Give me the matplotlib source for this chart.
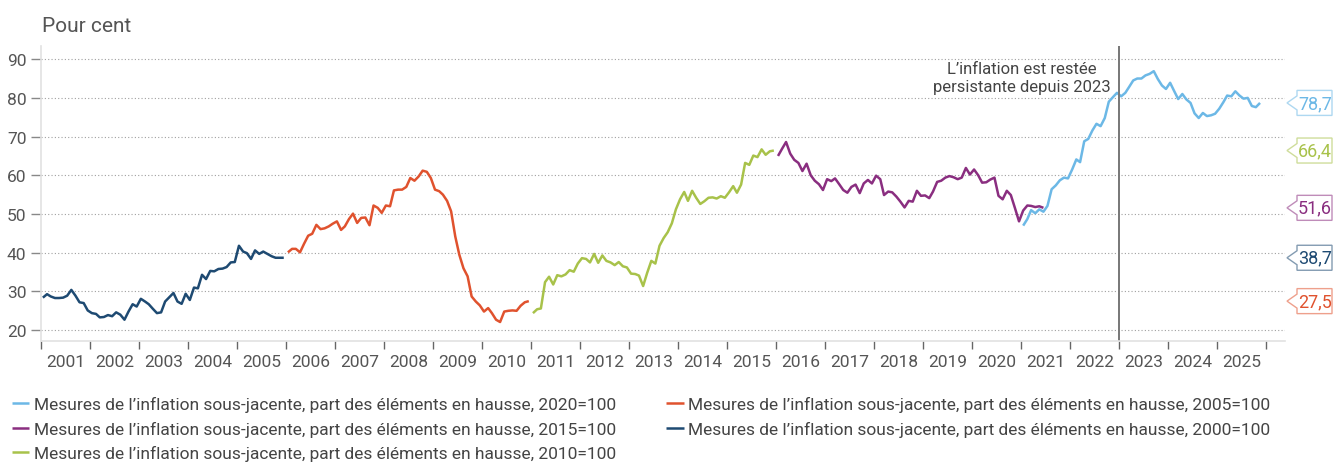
import numpy as np
import pandas as pd
import matplotlib
matplotlib.use("Agg")
import matplotlib.pyplot as plt
import matplotlib.dates as mdates
from matplotlib.patches import Polygon
from matplotlib.transforms import IdentityTransform

plt.rcParams['font.family'] = ['Roboto', 'DejaVu Sans']

# Part des éléments en hausse (pour cent), données mensuelles
v2000 = [28.4, 29.3, 28.7, 28.3, 28.3, 28.4, 28.9, 30.4, 28.9, 27.2, 27.0, 25.1,
         24.4, 24.2, 23.3, 23.4, 23.9, 23.6, 24.6, 24.0, 22.7, 24.8, 26.7, 26.1,
         28.1, 27.4, 26.7, 25.5, 24.4, 24.6, 27.4, 28.5, 29.6, 27.4, 26.8, 29.4,
         27.8, 31.0, 30.8, 34.3, 33.2, 35.3, 35.2, 35.8, 35.9, 36.3, 37.5, 37.6,
         41.8, 40.3, 39.9, 38.4, 40.6, 39.7, 40.3, 39.7, 39.1, 38.7, 38.7, 38.7]
v2005 = [40.1, 41.0, 41.0, 40.1, 42.3, 44.4, 44.9, 47.2, 46.1, 46.3, 46.8, 47.5,
         48.1, 45.9, 46.8, 48.7, 50.1, 47.7, 49.0, 49.1, 47.1, 52.2, 51.6, 50.3,
         52.2, 52.0, 56.1, 56.3, 56.3, 57.0, 59.3, 58.6, 59.7, 61.2, 60.9, 59.3,
         56.3, 55.9, 55.0, 53.4, 50.7, 44.2, 39.5, 36.0, 33.9, 28.7, 27.4, 26.4,
         24.8, 25.7, 24.4, 22.7, 22.1, 24.8, 25.0, 25.1, 25.0, 26.3, 27.2, 27.5]
v2010 = [24.4, 25.4, 25.6, 32.4, 33.8, 31.8, 34.2, 33.9, 34.4, 35.5, 35.1, 37.2,
         38.6, 38.4, 37.5, 39.7, 37.4, 39.3, 37.9, 37.5, 36.8, 37.6, 36.5, 36.2,
         34.6, 34.5, 34.1, 31.4, 34.8, 37.9, 37.2, 41.8, 43.8, 45.3, 47.6, 51.2,
         53.8, 55.7, 53.4, 56.0, 54.2, 52.6, 53.3, 54.2, 54.3, 54.0, 54.6, 54.2,
         55.6, 57.2, 55.5, 57.6, 63.2, 62.7, 65.1, 64.7, 66.7, 65.3, 66.2, 66.4]
v2015 = [65.0, 66.9, 68.6, 65.6, 64.0, 63.2, 61.1, 63.0, 60.0, 58.6, 57.7, 56.2,
         59.0, 58.5, 59.2, 57.7, 56.2, 55.5, 57.0, 57.6, 55.4, 57.9, 58.8, 57.9,
         59.9, 59.0, 54.9, 55.8, 55.6, 54.5, 53.2, 51.7, 53.4, 53.2, 56.0, 54.7,
         54.8, 54.1, 55.8, 58.3, 58.6, 59.4, 59.8, 59.5, 59.0, 59.4, 61.9, 60.2,
         61.5, 60.0, 58.1, 58.2, 58.9, 59.4, 54.7, 53.8, 56.0, 54.9, 51.5, 48.1,
         50.9, 52.2, 52.1, 51.8, 52.0, 51.6]
v2020 = [47.0, 48.7, 51.0, 50.2, 51.2, 50.6, 52.1, 56.4, 57.4, 58.7, 59.4, 59.2,
         61.5, 64.1, 63.4, 68.8, 69.4, 71.6, 73.3, 72.7, 74.8, 79.0, 80.2, 81.3,
         80.4, 81.3, 82.8, 84.5, 85.0, 85.0, 85.8, 86.2, 86.9, 84.9, 83.2, 82.3,
         83.9, 81.7, 79.7, 81.0, 79.6, 78.7, 76.0, 74.8, 76.1, 75.3, 75.5, 75.9,
         77.2, 78.9, 80.6, 80.4, 81.7, 80.6, 79.8, 80.0, 77.9, 77.6, 78.7]

label = "Mesures de l\u2019inflation sous-jacente, part des éléments en hausse, {}=100"

series = [
    # (valeurs, début, base, couleur)
    (v2020, '2021-01', '2020', '#6CB8E6'),
    (v2015, '2016-01', '2015', '#8A2E80'),
    (v2010, '2011-01', '2010', '#A8C24A'),
    (v2005, '2006-01', '2005', '#E0522E'),
    (v2000, '2001-01', '2000', '#1E4A72'),
]
last_labels = ['78,7', '51,6', '66,4', '27,5', '38,7']

fig = plt.figure(figsize=(13.34, 4.64), dpi=100)
W, H = 1334, 464
ax = fig.add_axes([41 / W, 1 - 342 / H, (1285 - 41) / W, (342 - 47) / H])

handles = []
for vals, start, base, col in series:
    dates = pd.date_range(start, periods=len(vals), freq='MS') + pd.Timedelta(days=14)
    h, = ax.plot(dates, vals, color=col, lw=1.8, solid_capstyle='butt')
    handles.append(h)

ax.set_xlim(pd.Timestamp('2001-01-01'), pd.Timestamp('2026-05-20'))
ax.set_ylim(17.2, 93.4)
ax.set_yticks(np.arange(20, 91, 10))

ax.xaxis.set_major_locator(mdates.YearLocator())
ax.xaxis.set_major_formatter(plt.NullFormatter())
ax.xaxis.set_minor_locator(mdates.MonthLocator(bymonth=7))
ax.xaxis.set_minor_formatter(mdates.DateFormatter('%Y'))
ax.tick_params(axis='x', which='major', length=6, width=1, color='#666666')
ax.tick_params(axis='x', which='minor', length=0, pad=9.5, labelsize=12.5, labelcolor='#555555')
ax.tick_params(axis='y', length=7, width=1, color='#888888', pad=3.5, labelsize=12.5,
               labelcolor='#555555')

ax.yaxis.grid(True, linestyle=(0, (1, 2)), color='#A0A0A0', lw=0.8)
ax.set_axisbelow(True)
for s in ['top', 'right']:
    ax.spines[s].set_visible(False)
for s in ['left', 'bottom']:
    ax.spines[s].set_color('#E2E2E2')
    ax.spines[s].set_linewidth(1.2)

ax.axvline(pd.Timestamp('2023-01-01'), color='#777777', lw=1.4)
ax.text(pd.Timestamp('2021-01-05'), 85.3, "L\u2019inflation est restée\npersistante depuis 2023",
        ha='center', va='center', fontsize=12, color='#444444', linespacing=1.3)

fig.text(42 / W, 1 - 32 / H, 'Pour cent', fontsize=15, color='#555555', va='baseline')

# étiquettes des dernières valeurs
fig.canvas.draw()
for (vals, start, base, col), txt in zip(series, last_labels):
    yc = ax.transData.transform((0, vals[-1]))[1]
    ec = tuple(0.55 * np.array(matplotlib.colors.to_rgb(col)) + 0.45)
    pts = [(1287, yc), (1297, yc + 7), (1297, yc + 12.5), (1332, yc + 12.5),
           (1332, yc - 12.5), (1297, yc - 12.5), (1297, yc - 7)]
    fig.patches.append(Polygon(pts, closed=True, fc='white', ec=ec, lw=1,
                               transform=IdentityTransform(), figure=fig))
    fig.text(1315, yc, txt, transform=IdentityTransform(), ha='center', va='center',
             fontsize=13, color=col)

fig.legend(handles, [label.format(b) for _, _, b, _ in series], ncol=2,
           loc='upper left', bbox_to_anchor=(12 / W, 1 - 397 / H), frameon=False,
           fontsize=12.5, handlelength=1.0, handletextpad=0.25, columnspacing=2.9,
           labelspacing=0.5, borderpad=0, borderaxespad=0, labelcolor='#444444')

fig.savefig('out.png', dpi=100)
